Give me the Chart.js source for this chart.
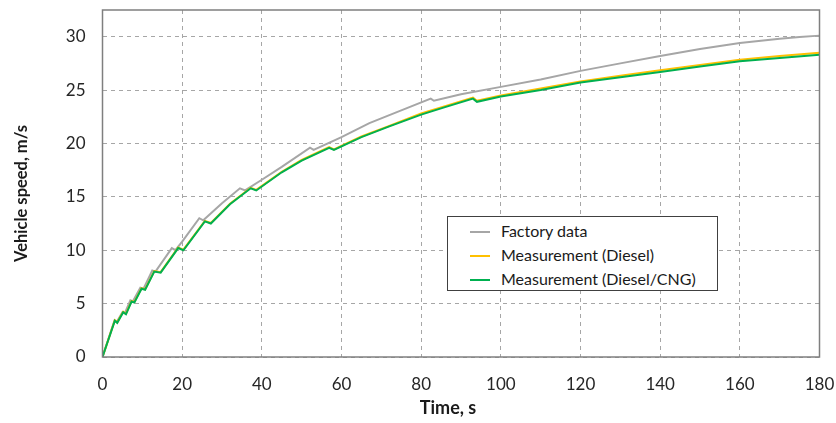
<!DOCTYPE html>
<html>
<head>
<meta charset="utf-8">
<script src="https://cdn.jsdelivr.net/npm/chart.js@4.4.0/dist/chart.umd.min.js"></script>
<style>
  html, body { margin: 0; padding: 0; background: #fff; }
  #wrap { position: relative; width: 836px; height: 423px; }
  #legend {
    position: absolute; left: 447px; top: 216px; width: 269px; height: 73px;
    border: 1px solid #404040; background: #fff;
    font-family: Lato, sans-serif; font-size: 16px; color: #1a1a1a;
  }
  #legend div { position: absolute; left: 22px; height: 20px; line-height: 20px; white-space: nowrap; }
  #legend span { display: inline-block; width: 20px; height: 2px; vertical-align: middle; margin-right: 11px; position: relative; top: -1px; }
</style>
</head>
<body>
<div id="wrap">
  <canvas id="myChart" width="836" height="423"></canvas>
  <div id="legend"></div>
</div>
<script>
// time [s], speed [m/s]
const factoryTime  = [0, 3, 3.6, 5, 5.6, 7, 7.6, 9.5, 10.3, 12.5, 13.3, 17.4, 18.3, 20, 24.3, 25.3, 30, 34.5, 35.8, 40, 45, 52.1, 53, 60, 67, 75, 82.4, 83.2, 90, 100, 110, 120, 130, 140, 150, 160, 170, 175, 180];
const factorySpeed = [0, 3.4, 3.3, 4.2, 4.1, 5.3, 5.2, 6.5, 6.4, 8.1, 8.0, 10.2, 10.0, 10.8, 13.0, 12.8, 14.4, 15.8, 15.6, 16.6, 17.8, 19.6, 19.4, 20.6, 21.9, 23.1, 24.2, 24.0, 24.6, 25.3, 26.0, 26.8, 27.5, 28.2, 28.85, 29.4, 29.8, 29.97, 30.1];

const dieselTime  = [0, 3.1, 3.7, 5.2, 5.9, 7.3, 8, 9.8, 10.7, 13, 14.6, 19, 20.3, 25.7, 27.2, 32, 37.2, 38.6, 45, 50, 56.9, 58.1, 65, 72, 80, 86, 93, 94, 100, 110, 120, 130, 140, 150, 160, 170, 180];
const dieselSpeed = [0, 3.45, 3.25, 4.25, 4.05, 5.25, 5.15, 6.45, 6.35, 8.05, 7.95, 10.25, 10.05, 12.75, 12.55, 14.35, 15.85, 15.65, 17.35, 18.45, 19.65, 19.45, 20.65, 21.65, 22.8, 23.5, 24.3, 24.0, 24.5, 25.15, 25.8, 26.35, 26.85, 27.35, 27.85, 28.2, 28.5];

const cngTime  = [0, 3.1, 3.7, 5.2, 5.9, 7.3, 8, 9.8, 10.7, 13, 14.6, 19, 20.3, 25.7, 27.2, 32, 37.2, 38.6, 45, 50, 56.9, 58.1, 65, 72, 80, 86, 93, 94, 100, 110, 120, 130, 140, 150, 160, 170, 180];
const cngSpeed = [0, 3.4, 3.2, 4.2, 4.0, 5.2, 5.1, 6.4, 6.3, 8.0, 7.9, 10.2, 10.0, 12.7, 12.5, 14.3, 15.8, 15.6, 17.3, 18.4, 19.6, 19.4, 20.6, 21.6, 22.7, 23.4, 24.2, 23.9, 24.4, 25.0, 25.7, 26.2, 26.7, 27.2, 27.7, 28.0, 28.3];

const seriesNames = ['Factory data', 'Measurement (Diesel)', 'Measurement (Diesel/CNG)'];
const seriesColors = ['#a6a6a6', '#ffc000', '#00b050'];

const xTicks = [0, 20, 40, 60, 80, 100, 120, 140, 160, 180];
const xTitle = 'Time, s';
const yTitle = 'Vehicle speed, m/s';

function pts(xs, ys) {
  return xs.map((x, i) => ({ x: x, y: ys[i] }));
}

const font = 'Lato';
const gridDash = { color: '#a6a6a6', lineWidth: 1, drawTicks: false };

// frame round the plot area + axis titles
const frame = {
  id: 'frame',
  afterDatasetsDraw(chart) {
    const a = chart.chartArea, c = chart.ctx;
    c.save();
    c.strokeStyle = '#7f7f7f';
    c.lineWidth = 1.5;
    c.strokeRect(a.left, a.top, a.right - a.left, a.bottom - a.top);
    c.fillStyle = '#1a1a1a';
    c.textAlign = 'center';
    c.textBaseline = 'middle';
    c.font = 'bold 18px ' + font;
    c.fillText(xTitle, (a.left + a.right) / 2 - 13, 408);
    c.translate(22, (a.top + a.bottom) / 2 + 10);
    c.rotate(-Math.PI / 2);
    c.font = 'bold 16.5px ' + font;
    c.fillText(yTitle, 0, 0);
    c.restore();
  }
};

const ctx = document.getElementById('myChart');
const myChart = new Chart(ctx, {
  type: 'line',
  data: {
    datasets: [
      { label: seriesNames[0], data: pts(factoryTime, factorySpeed), borderColor: seriesColors[0], order: 2 },
      { label: seriesNames[1], data: pts(dieselTime, dieselSpeed), borderColor: seriesColors[1], order: 1 },
      { label: seriesNames[2], data: pts(cngTime, cngSpeed), borderColor: seriesColors[2], order: 0 }
    ]
  },
  options: {
    responsive: false,
    animation: false,
    datasets: { line: { borderWidth: 2, pointRadius: 0, tension: 0, fill: false } },
    layout: { padding: { top: 10, right: 16.5, left: 0, bottom: 0 } },
    plugins: { legend: { display: false }, tooltip: { enabled: false } },
    scales: {
      x: {
        type: 'linear', min: 0, max: 180,
        afterBuildTicks: s => { s.ticks = xTicks.map(v => ({ value: v })); },
        afterFit: s => { s.height = 66; s.paddingLeft = 0; s.paddingRight = 0; },
        grid: gridDash,
        border: { display: false },
        ticks: { padding: 17, color: '#262626', font: { family: font, size: 17 } }
      },
      y: {
        min: 0, max: 32.5,
        ticks: { stepSize: 5, padding: 17, color: '#262626', font: { family: font, size: 17 } },
        afterBuildTicks: s => { s.ticks = s.ticks.filter(t => t.value <= 30); },
        afterFit: s => { s.width = 102.5; s.paddingTop = 0; s.paddingBottom = 0; },
        grid: gridDash,
        border: { display: false }
      }
    }
  },
  plugins: [frame]
});

// dashed grid
myChart.options.scales.x.grid.borderDash = [4, 4];
myChart.options.scales.y.grid.borderDash = [4, 4];
myChart.options.scales.x.border.dash = [4, 4];
myChart.options.scales.y.border.dash = [4, 4];
myChart.update();

// legend box
const legend = document.getElementById('legend');
seriesNames.forEach((name, i) => {
  const row = document.createElement('div');
  row.style.top = (4 + i * 24) + 'px';
  row.innerHTML = '<span style="background:' + seriesColors[i] + '"></span>' + name;
  legend.appendChild(row);
});
</script>
</body>
</html>
